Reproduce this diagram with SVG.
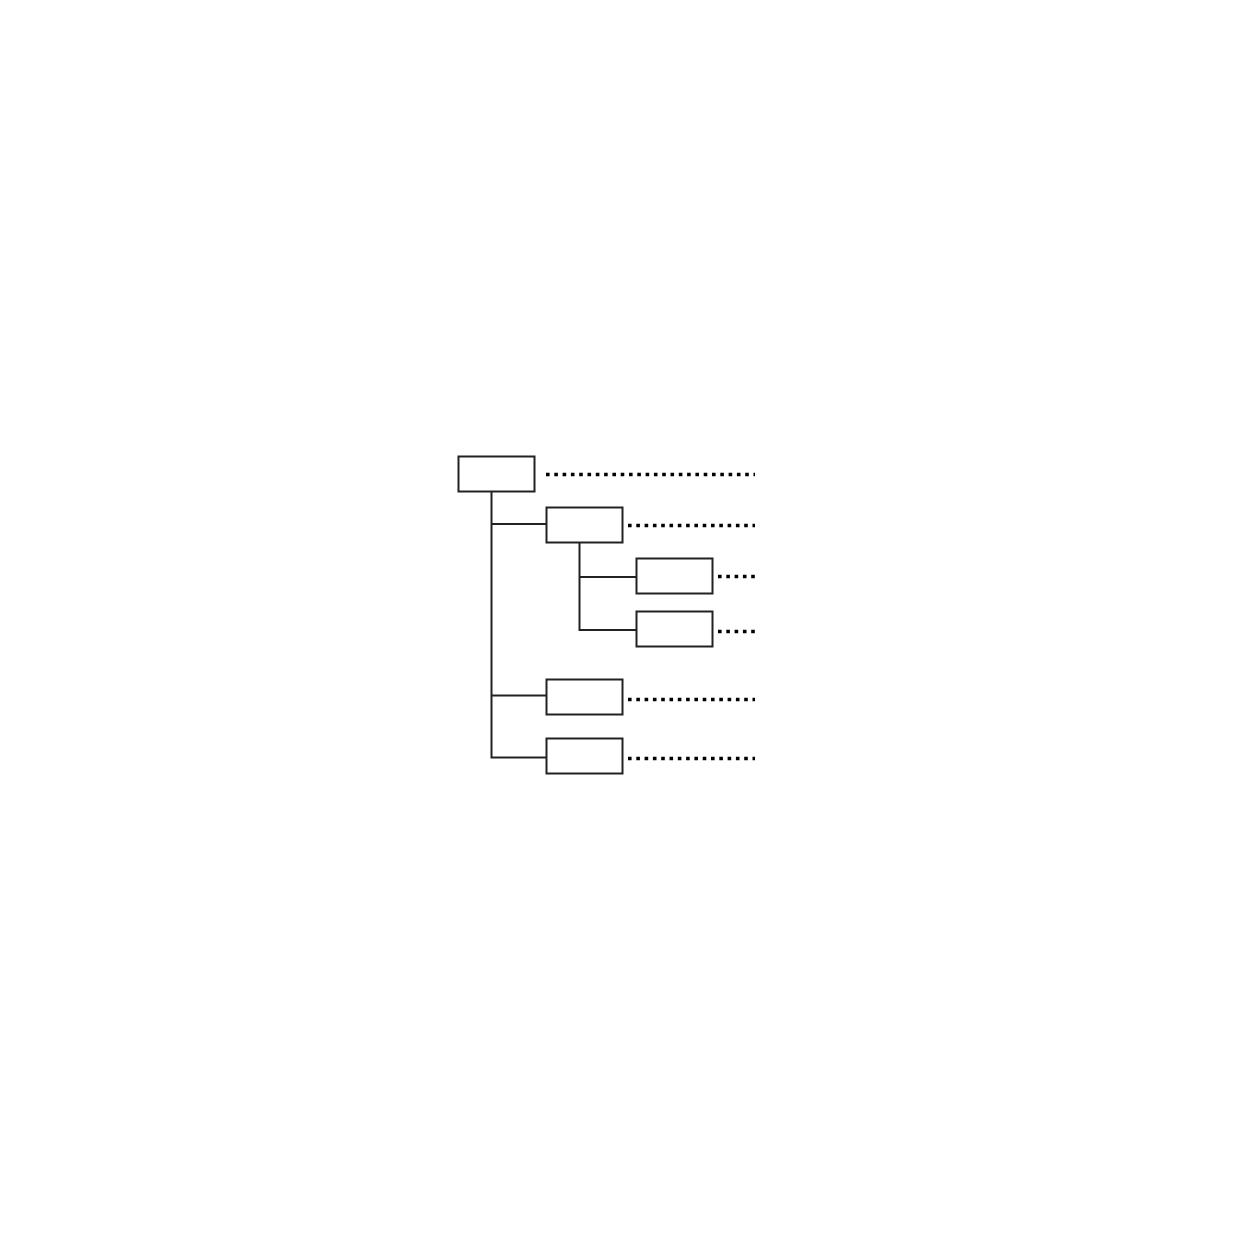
<svg xmlns="http://www.w3.org/2000/svg" width="1240" height="1240" viewBox="0 0 1240 1240">
<style>
.box{fill:#fff;stroke:#222;stroke-width:2}
.ln{fill:none;stroke:#222;stroke-width:2}
.dot{fill:none;stroke:#000;stroke-width:3.6;stroke-dasharray:3.6 4.7}
</style>
<rect width="1240" height="1240" fill="#fff"/>
<g id="connectors">
<path class="ln" d="M491.5 491.5 V757.5 H546.5 M491.5 524 H546.5 M491.5 695.5 H546.5"/>
<path class="ln" d="M579.5 542.5 V630 H636.5 M579.5 577 H636.5"/>
<path class="dot" d="M546 474.5 H755"/>
<path class="dot" d="M628 525.5 H755"/>
<path class="dot" d="M718 576.5 H755"/>
<path class="dot" d="M718 631.5 H755"/>
<path class="dot" d="M628 699.5 H755"/>
<path class="dot" d="M628 758.5 H755"/>
</g>
<g id="n1"><rect class="box" x="458.5" y="456.5" width="76" height="35"/></g>
<g id="n2"><rect class="box" x="546.5" y="507.5" width="76" height="35"/></g>
<g id="n3"><rect class="box" x="636.5" y="558.5" width="76" height="35"/></g>
<g id="n4"><rect class="box" x="636.5" y="611.5" width="76" height="35"/></g>
<g id="n5"><rect class="box" x="546.5" y="679.5" width="76" height="35"/></g>
<g id="n6"><rect class="box" x="546.5" y="738.5" width="76" height="35"/></g>
</svg>
